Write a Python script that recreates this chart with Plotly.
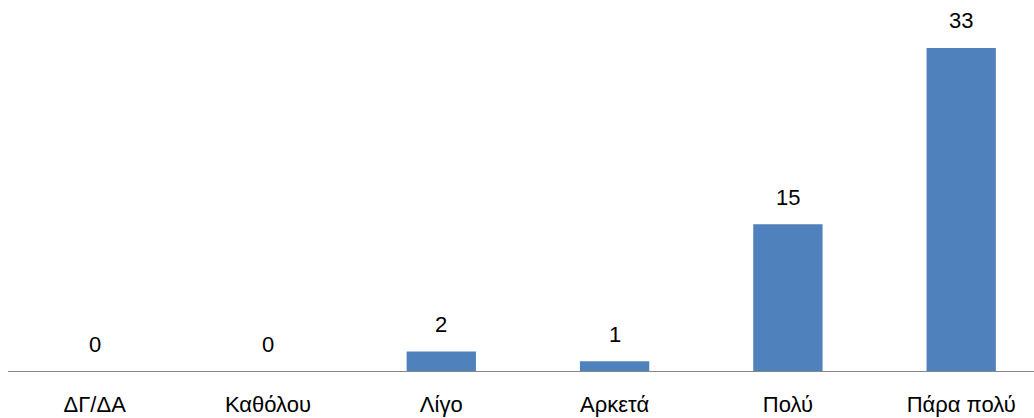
import plotly.graph_objects as go

categories = ["ΔΓ/ΔΑ", "Καθόλου", "Λίγο", "Αρκετά", "Πολύ", "Πάρα πολύ"]
values = [0, 0, 2, 1, 15, 33]

FONT = "Liberation Sans"

fig = go.Figure()
fig.add_trace(go.Bar(
    x=categories, y=values, width=0.4,
    marker=dict(color="#4F81BD", line=dict(width=0)),
    hoverinfo="skip",
))
for c, v in zip(categories, values):
    fig.add_annotation(x=c, y=v, text=str(v), showarrow=False,
                       yanchor="middle", yshift=27,
                       font=dict(family=FONT, size=22, color="#000000"))

fig.update_layout(
    width=1034, height=418,
    margin=dict(l=8, r=0, t=0, b=47),
    paper_bgcolor="white", plot_bgcolor="white",
    showlegend=False,
    font=dict(family=FONT, size=22, color="#000000"),
    xaxis=dict(range=[-0.5, 5.42], showline=True, linecolor="#868686",
               linewidth=1, ticks="", showgrid=False, zeroline=False,
               ticklabelstandoff=14, automargin=False,
               tickfont=dict(family=FONT, size=22, color="#000000")),
    yaxis=dict(range=[0, 37.9], visible=False, showgrid=False, zeroline=False),
)
fig.write_html("out.html", config={"displayModeBar": False},
               post_script="document.body.style.margin='0';document.body.style.overflow='hidden';")
